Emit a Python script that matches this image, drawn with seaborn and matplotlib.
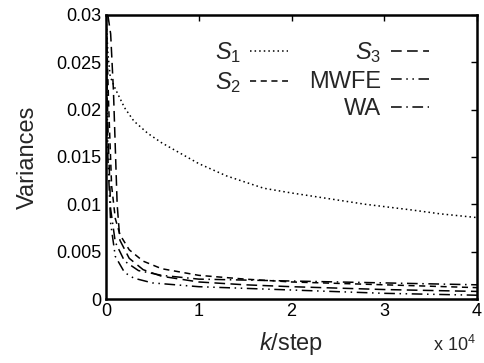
import numpy as np
import pandas as pd
import matplotlib
matplotlib.use("Agg")
import matplotlib.pyplot as plt
from matplotlib.lines import Line2D
import seaborn as sns

# Data (k in steps, values = variances)
k_s1 = [0, 200, 450, 1000, 2000, 3000, 4500, 6000, 8000, 10000, 13000, 17000, 20000, 24000, 28000, 33000, 36000, 40000]
v_s1 = [0.0300, 0.0260, 0.0235, 0.0222, 0.0202, 0.0188, 0.0175, 0.0165, 0.0154, 0.0143, 0.0130, 0.0117, 0.0112, 0.0106, 0.0100, 0.0094, 0.0090, 0.0086]

k_s2 = [0, 300, 600, 1000, 1500, 2500, 4000, 6000, 10000, 15000, 20000, 30000, 40000]
v_s2 = [0.0300, 0.0200, 0.0120, 0.0085, 0.0068, 0.0052, 0.0040, 0.0032, 0.0025, 0.0021, 0.0018, 0.0015, 0.0012]

k_s3 = [200, 500, 800, 1000, 1200, 1500, 2500, 4000, 6000, 10000, 15000, 20000, 30000, 40000]
v_s3 = [0.0300, 0.0280, 0.0220, 0.0160, 0.0100, 0.0062, 0.0043, 0.0031, 0.0024, 0.0018, 0.0015, 0.0013, 0.0010, 0.0008]

k_mwfe = [0, 200, 500, 1000, 2000, 3000, 5000, 10000, 20000, 30000, 40000]
v_mwfe = [0.0300, 0.0150, 0.0080, 0.0045, 0.0028, 0.0022, 0.0017, 0.0013, 0.00095, 0.0006, 0.0004]

k_wa = [0, 200, 500, 1000, 2000, 3500, 6000, 10000, 15000, 20000, 30000, 40000]
v_wa = [0.0300, 0.0180, 0.0095, 0.0060, 0.0040, 0.0030, 0.0025, 0.0021, 0.0020, 0.0019, 0.0017, 0.0015]

names = ["S1", "S2", "S3", "MWFE", "WA"]
labels = [r"$S_1$", r"$S_2$", r"$S_3$", "MWFE", "WA"]

frames = []
for n, k, v in zip(names, [k_s1, k_s2, k_s3, k_mwfe, k_wa], [v_s1, v_s2, v_s3, v_mwfe, v_wa]):
    frames.append(pd.DataFrame({"k": k, "v": v, "method": n}))
df = pd.concat(frames, ignore_index=True)

sns.set_theme(style="white")
plt.rcParams["font.family"] = ["Liberation Sans", "DejaVu Sans"]
plt.rcParams["mathtext.fontset"] = "custom"
plt.rcParams["mathtext.rm"] = "Liberation Sans"
plt.rcParams["mathtext.it"] = "Liberation Sans:italic"

dashes = {
    "S1": (1, 2),
    "S2": (4, 3),
    "S3": (7, 3.5),
    "MWFE": (7, 3, 1, 3, 1, 3),
    "WA": (7, 3, 1, 3),
}
palette = {n: "black" for n in names}

fig = plt.figure(figsize=(4.85, 3.63), dpi=100)
ax = fig.add_axes([0.2186, 0.1763, 0.7649, 0.7824])

sns.lineplot(data=df, x="k", y="v", hue="method", style="method",
             palette=palette, dashes=dashes, linewidth=1.1,
             sort=False, estimator=None, legend=False, ax=ax)

ax.set_xlim(0, 40000)
ax.set_ylim(0, 0.03)
ax.set_xticks([0, 10000, 20000, 30000, 40000])
ax.set_xticklabels(["0", "1", "2", "3", "4"])
ax.set_yticks([0, 0.005, 0.01, 0.015, 0.02, 0.025, 0.03])
ax.set_yticklabels(["0", "0.005", "0.01", "0.015", "0.02", "0.025", "0.03"])
ax.tick_params(direction="in", length=4, width=1, labelsize=13, top=True, right=True,
               colors="black", pad=3)
for s in ax.spines.values():
    s.set_visible(True)
    s.set_color("black")
    s.set_linewidth(1.8)

ax.set_xlabel(r"$k$/step", fontsize=17, labelpad=7)
ax.set_ylabel("Variances", fontsize=17, labelpad=13)
ax.text(0.998, -0.125, r"x 10$^4$", transform=ax.transAxes, ha="right", va="top", fontsize=13)

handles = []
for n in names:
    handles.append(Line2D([0], [0], color="black", linewidth=1.1, linestyle=(0, dashes[n])))
blank = Line2D([0], [0], color="none")
order_h = [handles[0], handles[1], blank, handles[2], handles[3], handles[4]]
order_l = [labels[0], labels[1], "", labels[2], labels[3], labels[4]]
leg = ax.legend(order_h, order_l, ncol=2, markerfirst=False, frameon=False,
                fontsize=17, loc="upper right", bbox_to_anchor=(0.927, 0.985),
                handlelength=1.6, handletextpad=0.4, columnspacing=0.9,
                labelspacing=0.22)

fig.savefig("out.png", dpi=100)
